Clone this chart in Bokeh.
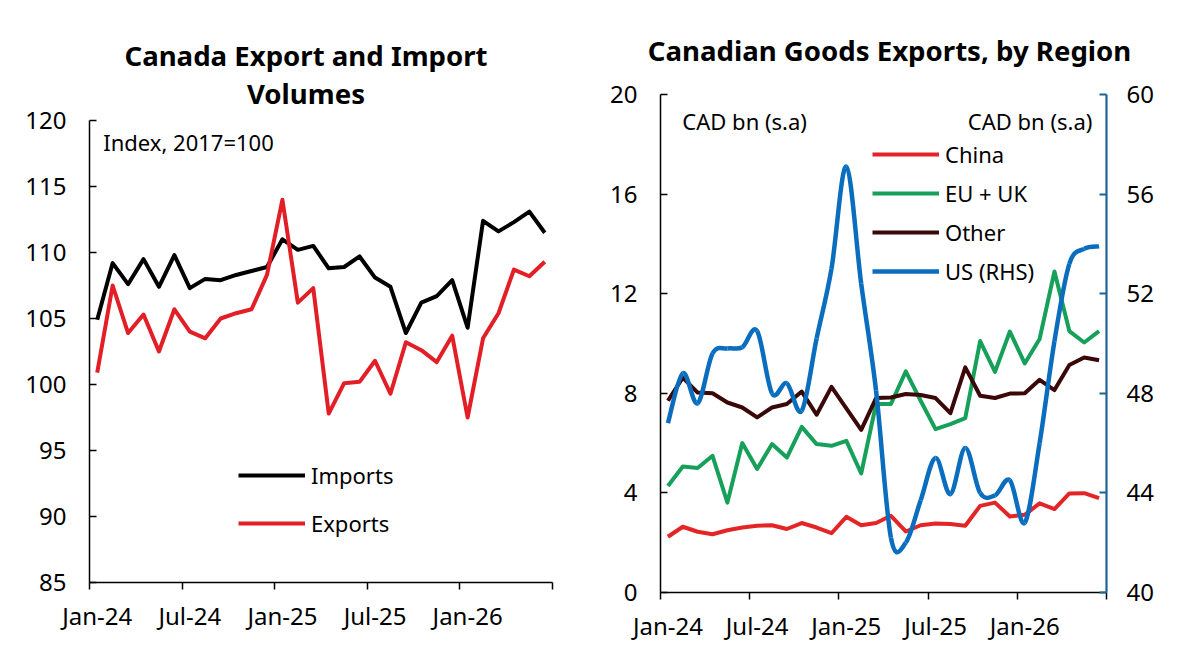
from bokeh.plotting import figure
from bokeh.models import Range1d, FixedTicker, LinearAxis, Label, Legend, LegendItem, Div
from bokeh.layouts import row, column
from bokeh.embed import file_html
from bokeh.resources import INLINE

# ---------------- data ----------------
month_idx = list(range(30))  # Jan-24 .. Jun-26
tick_pos = [0, 6, 12, 18, 24]
tick_text = ["Jan-24", "Jul-24", "Jan-25", "Jul-25", "Jan-26"]
bound_pos = [-0.5, 5.5, 11.5, 17.5, 23.5, 29.5]

imports = [104.9, 109.2, 107.6, 109.5, 107.4, 109.8, 107.3, 108.0, 107.9, 108.3,
           108.6, 108.9, 111.0, 110.2, 110.5, 108.8, 108.9, 109.7, 108.1, 107.4,
           103.9, 106.2, 106.7, 107.9, 104.3, 112.4, 111.6, 112.3, 113.1, 111.5]
exports = [100.9, 107.5, 103.9, 105.3, 102.5, 105.7, 104.0, 103.5, 105.0, 105.4,
           105.7, 108.3, 114.0, 106.2, 107.3, 97.8, 100.1, 100.2, 101.8, 99.3,
           103.2, 102.6, 101.7, 103.7, 97.5, 103.5, 105.4, 108.7, 108.2, 109.3]

china = [2.24, 2.64, 2.44, 2.34, 2.50, 2.61, 2.68, 2.70, 2.55, 2.79,
         2.61, 2.38, 3.04, 2.70, 2.79, 3.08, 2.45, 2.70, 2.77, 2.75,
         2.68, 3.48, 3.61, 3.05, 3.12, 3.58, 3.35, 3.98, 3.99, 3.79]
eu_uk = [4.28, 5.06, 5.00, 5.49, 3.61, 6.00, 4.96, 5.96, 5.42, 6.65,
         5.96, 5.89, 6.09, 4.78, 7.57, 7.57, 8.88, 7.70, 6.56, 6.76,
         7.00, 10.10, 8.86, 10.48, 9.20, 10.18, 12.89, 10.50, 10.04, 10.50]
other = [7.70, 8.63, 8.03, 8.00, 7.63, 7.43, 7.03, 7.43, 7.57, 8.07,
         7.14, 8.26, 7.39, 6.53, 7.81, 7.83, 7.97, 7.93, 7.81, 7.20,
         9.04, 7.90, 7.81, 7.99, 8.00, 8.54, 8.13, 9.14, 9.44, 9.33]
us = [46.8, 48.8, 47.6, 49.6, 49.8, 49.85, 50.5, 48.0, 48.4, 47.3,
      50.2, 53.0, 57.1, 52.4, 48.1, 42.2, 42.0, 43.7, 45.4, 43.95,
      45.8, 44.0, 43.9, 44.5, 42.8, 46.0, 50.1, 53.2, 53.8, 53.9]

FONT = "Noto Sans"
TICK_FS = "24px"
TXT_FS = "22px"

C_BLACK = "#000000"
C_RED = "#E21F26"
C_GREEN = "#16A05A"
C_BROWN = "#3A0808"
C_BLUE = "#0A6DBE"
C_AXBLUE = "#1B6496"


def style_common(p):
    p.outline_line_color = None
    p.xgrid.visible = False
    p.ygrid.visible = False
    p.background_fill_color = "white"
    p.border_fill_color = "white"


def style_xaxis(ax):
    ax.ticker = FixedTicker(ticks=tick_pos, minor_ticks=bound_pos)
    ax.major_label_overrides = {t: s for t, s in zip(tick_pos, tick_text)}
    ax.major_tick_in = 0
    ax.major_tick_out = 0
    ax.minor_tick_in = 0
    ax.minor_tick_out = 7
    ax.minor_tick_line_color = "black"
    ax.minor_tick_line_width = 1.5
    ax.axis_line_width = 1.5
    ax.axis_line_color = "black"
    ax.major_label_standoff = 9
    ax.major_label_text_font = FONT
    ax.major_label_text_font_size = TICK_FS
    ax.major_label_text_color = "black"


def style_yaxis(ax, ticks, color="black", standoff=23):
    ax.ticker = FixedTicker(ticks=ticks)
    ax.major_tick_in = 7
    ax.major_tick_out = 0
    ax.minor_tick_in = 0
    ax.minor_tick_out = 0
    ax.major_tick_line_color = color
    ax.major_tick_line_width = 1.5 if color == "black" else 2.2
    ax.axis_line_color = color
    ax.axis_line_width = 1.5 if color == "black" else 2.2
    ax.major_label_standoff = standoff
    ax.major_label_text_font = FONT
    ax.major_label_text_font_size = TICK_FS
    ax.major_label_text_color = "black"


def title_div(html, width, height, pad_top, pad_left, pad_right):
    style = ("font-family:'Noto Sans';font-weight:bold;font-size:27.6px;line-height:38px;"
             "text-align:center;color:#000;box-sizing:border-box;"
             f"width:{width}px;padding-top:{pad_top}px;padding-left:{pad_left}px;"
             f"padding-right:{pad_right}px;white-space:nowrap;")
    return Div(text=f'<div style="{style}">{html}</div>', width=width, height=height, margin=0)


# ---------------- left chart ----------------
p1 = figure(width=598, height=558, x_range=Range1d(-0.5, 29.5), y_range=Range1d(85, 120),
            output_backend="svg", toolbar_location=None, margin=0,
            min_border_left=89, min_border_right=46, min_border_top=16, min_border_bottom=80)
style_common(p1)
style_xaxis(p1.xaxis[0])
style_yaxis(p1.yaxis[0], [85, 90, 95, 100, 105, 110, 115, 120])

r_imp = p1.line(month_idx, imports, line_color=C_BLACK, line_width=4, line_join="round")
r_exp = p1.line(month_idx, exports, line_color=C_RED, line_width=4, line_join="round")

leg1 = Legend(items=[LegendItem(label="Imports", renderers=[r_imp]),
                     LegendItem(label="Exports", renderers=[r_exp])],
              location=(149, 44), glyph_width=67, glyph_height=30, label_height=30,
              label_standoff=6, spacing=18, padding=0, margin=0,
              border_line_color=None, background_fill_alpha=0,
              label_text_font=FONT, label_text_font_size=TXT_FS, label_text_color="black")
p1.add_layout(leg1, "center")

p1.add_layout(Label(x=0.39, y=118.4, text="Index, 2017=100", text_align="left",
                    text_baseline="middle", text_font=FONT, text_font_size=TXT_FS,
                    text_color="black"))

t1 = title_div("Canada Export and Import<br>Volumes", 598, 104, 36, 14, 0)

# ---------------- right chart ----------------
p2 = figure(width=592, height=592, x_range=Range1d(-0.5, 29.5), y_range=Range1d(0, 20),
            output_backend="svg", toolbar_location=None, margin=0,
            min_border_left=62, min_border_right=84, min_border_top=24, min_border_bottom=70)
p2.extra_y_ranges = {"us": Range1d(40, 60)}
style_common(p2)
style_xaxis(p2.xaxis[0])
style_yaxis(p2.yaxis[0], [0, 4, 8, 12, 16, 20])
rax = LinearAxis(y_range_name="us")
style_yaxis(rax, [40, 44, 48, 52, 56, 60], color=C_AXBLUE, standoff=20)
p2.add_layout(rax, "right")

r_ch = p2.line(month_idx, china, line_color="#E42528", line_width=4, line_join="round")
r_eu = p2.line(month_idx, eu_uk, line_color=C_GREEN, line_width=4, line_join="round")
r_ot = p2.line(month_idx, other, line_color=C_BROWN, line_width=4, line_join="round")

# smoothed US line (Catmull-Rom -> cubic Bezier, as in a smoothed spreadsheet line)
n = len(us)
x0, y0, x1, y1, cx0, cy0, cx1, cy1 = [], [], [], [], [], [], [], []
for i in range(n - 1):
    xa, ya = month_idx[i], us[i]
    xb, yb = month_idx[i + 1], us[i + 1]
    xp, yp = (month_idx[i - 1], us[i - 1]) if i > 0 else (xa, ya)
    xn, yn = (month_idx[i + 2], us[i + 2]) if i + 2 < n else (xb, yb)
    x0.append(xa); y0.append(ya); x1.append(xb); y1.append(yb)
    cx0.append(xa + (xb - xp) / 6.0); cy0.append(ya + (yb - yp) / 6.0)
    cx1.append(xb - (xn - xa) / 6.0); cy1.append(yb - (yn - ya) / 6.0)
r_us = p2.bezier(x0=x0, y0=y0, x1=x1, y1=y1, cx0=cx0, cy0=cy0, cx1=cx1, cy1=cy1,
                 y_range_name="us", line_color=C_BLUE, line_width=4.5)

leg2 = Legend(items=[LegendItem(label="China", renderers=[r_ch]),
                     LegendItem(label="EU + UK", renderers=[r_eu]),
                     LegendItem(label="Other", renderers=[r_ot]),
                     LegendItem(label="US (RHS)", renderers=[r_us])],
              location=(212, 306), glyph_width=67, glyph_height=30, label_height=30,
              label_standoff=6, spacing=9, padding=0, margin=0,
              border_line_color=None, background_fill_alpha=0,
              label_text_font=FONT, label_text_font_size=TXT_FS, label_text_color="black")
p2.add_layout(leg2, "center")

p2.add_layout(Label(x=0.97, y=18.94, text="CAD bn (s.a)", text_align="left",
                    text_baseline="middle", text_font=FONT, text_font_size=TXT_FS,
                    text_color="black"))
p2.add_layout(Label(x=28.55, y=18.94, text="CAD bn (s.a)", text_align="right",
                    text_baseline="middle", text_font=FONT, text_font_size=TXT_FS,
                    text_color="black"))

t2 = title_div("Canadian Goods Exports, by Region", 592, 70, 31, 0, 9)

layout = row(column(t1, p1, margin=0), column(t2, p2, margin=0), margin=0)
open("out.html", "w").write(file_html(layout, INLINE))
